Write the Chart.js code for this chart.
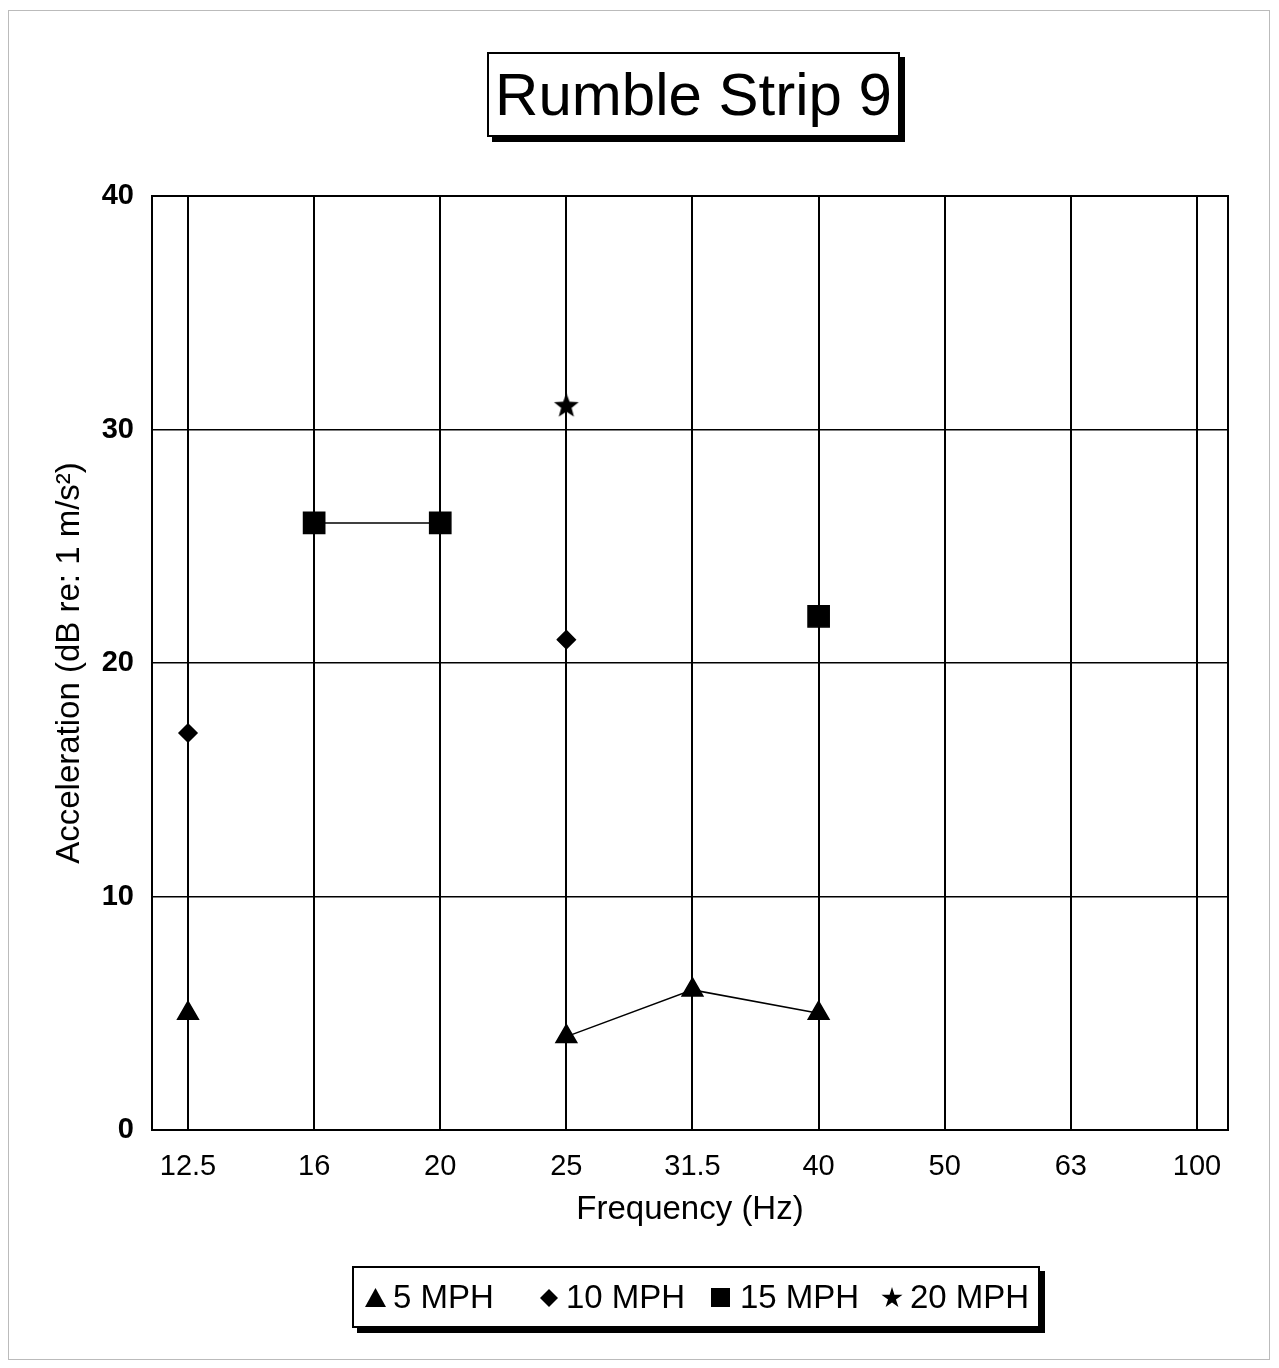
<!DOCTYPE html>
<html>
<head>
<meta charset="utf-8">
<script src="https://cdn.jsdelivr.net/npm/chart.js@4.4.1/dist/chart.umd.min.js"></script>
<style>
body { margin: 0; background: #fff; font-family: "Liberation Sans", Arial, sans-serif; }
#wrap { position: relative; width: 1279px; height: 1368px; }
#frame { position: absolute; left: 8px; top: 10px; width: 1260px; height: 1348px; border: 1px solid #bbb; }
#title { position: absolute; left: 487px; top: 52px; width: 409px; height: 81px; border: 2px solid #000;
  box-shadow: 5px 5px 0 #000; background: #fff; font-size: 60px; line-height: 81px; text-align: center; }
#legend { position: absolute; left: 352px; top: 1266px; width: 684px; height: 58px; border: 2px solid #000;
  box-shadow: 5px 5px 0 #000; background: #fff; font-size: 33px; }
#legend span { position: absolute; top: 11px; line-height: 36px; }
.mk { position: absolute; background: #000; }
canvas { position: absolute; left: 0; top: 0; }
</style>
</head>
<body>
<div id="wrap">
  <div id="frame"></div>
  <canvas id="chart" width="1279" height="1368"></canvas>
  <div id="title">Rumble Strip 9</div>
  <div id="legend">
    <div class="mk" style="left:11px;top:20px;width:21px;height:19px;clip-path:polygon(50% 0,100% 100%,0 100%)"></div>
    <span style="left:39px">5 MPH</span>
    <div class="mk" style="left:186px;top:21px;width:18px;height:18px;clip-path:polygon(50% 0,100% 50%,50% 100%,0 50%)"></div>
    <span style="left:212px">10 MPH</span>
    <div class="mk" style="left:357px;top:20px;width:19px;height:19px"></div>
    <span style="left:386px">15 MPH</span>
    <div class="mk" style="left:527px;top:19px;width:22px;height:22px;clip-path:polygon(50% 0,61% 35%,98% 35%,68% 57%,79% 91%,50% 70%,21% 91%,32% 57%,2% 35%,39% 35%)"></div>
    <span style="left:556px">20 MPH</span>
  </div>
</div>
<script>
const freqLabels = ['12.5', '16', '20', '25', '31.5', '40', '50', '63', '100'];
const mph5  = [5, null, null, 4, 6, 5, null, null, null];
const mph10 = [17, null, null, 21, null, null, null, null, null];
const mph15 = [null, 26, 26, null, null, 22, null, null, null];
const mph20 = [null, null, null, 31, null, null, null, null, null];

function toPoints(arr) {
  return arr.map((v, i) => ({ x: i, y: v }));
}

// filled five-point star for the 20 MPH marker
function makeStar(r) {
  const c = document.createElement('canvas');
  c.width = c.height = r * 2 + 2;
  const g = c.getContext('2d');
  g.beginPath();
  for (let i = 0; i < 10; i++) {
    const rad = i % 2 ? r * 0.42 : r;
    const a = -Math.PI / 2 + i * Math.PI / 5;
    g.lineTo(r + 1 + rad * Math.cos(a), r + 1 + rad * Math.sin(a));
  }
  g.closePath();
  g.fillStyle = '#000';
  g.fill();
  return c;
}

const frameBox = {
  id: 'frameBox',
  afterDraw(chart) {
    const { ctx, chartArea: a } = chart;
    ctx.save();
    ctx.strokeStyle = '#000';
    ctx.lineWidth = 2;
    ctx.strokeRect(a.left, a.top, a.right - a.left, a.bottom - a.top);
    ctx.restore();
  }
};

const common = { borderColor: '#000', backgroundColor: '#000', borderWidth: 1.5, spanGaps: false };

new Chart(document.getElementById('chart'), {
  type: 'line',
  data: {
    datasets: [
      { ...common, label: '5 MPH', data: toPoints(mph5), pointStyle: 'triangle', pointRadius: 12 },
      { ...common, label: '10 MPH', data: toPoints(mph10), pointStyle: 'rectRot', pointRadius: 9 },
      { ...common, label: '15 MPH', data: toPoints(mph15), pointStyle: 'rect', pointRadius: 15 },
      { ...common, label: '20 MPH', data: toPoints(mph20), pointStyle: makeStar(13) }
    ]
  },
  options: {
    responsive: false,
    animation: false,
    layout: { padding: { left: 0, top: 196, right: 51, bottom: 138 } },
    plugins: { legend: { display: false }, title: { display: false }, tooltip: { enabled: false } },
    scales: {
      x: {
        type: 'linear',
        min: -0.2855,
        max: 8.246,
        afterBuildTicks: s => { s.ticks = freqLabels.map((_, i) => ({ value: i })); },
        afterFit: s => { s.height = 100; },
        ticks: {
          autoSkip: false, maxRotation: 0, padding: 20, color: '#000',
          font: { family: 'Liberation Sans', size: 29 },
          callback: v => freqLabels[v]
        },
        grid: { color: '#000', lineWidth: 2, drawTicks: false },
        border: { display: false },
        title: { display: true, text: 'Frequency (Hz)', color: '#000', padding: { top: 0, bottom: 0 },
          font: { family: 'Liberation Sans', size: 33 } }
      },
      y: {
        min: 0,
        max: 40,
        afterFit: s => { s.width = 152; },
        ticks: { stepSize: 10, padding: 18, color: '#000', font: { family: 'Liberation Sans', size: 29, weight: 'bold' } },
        grid: { color: '#000', lineWidth: 1.5, drawTicks: false },
        border: { display: false },
        title: { display: true, text: 'Acceleration (dB re: 1 m/s²)', color: '#000', padding: { top: 50, bottom: 0 },
          font: { family: 'Liberation Sans', size: 33 } }
      }
    }
  },
  plugins: [frameBox]
});
</script>
</body>
</html>
